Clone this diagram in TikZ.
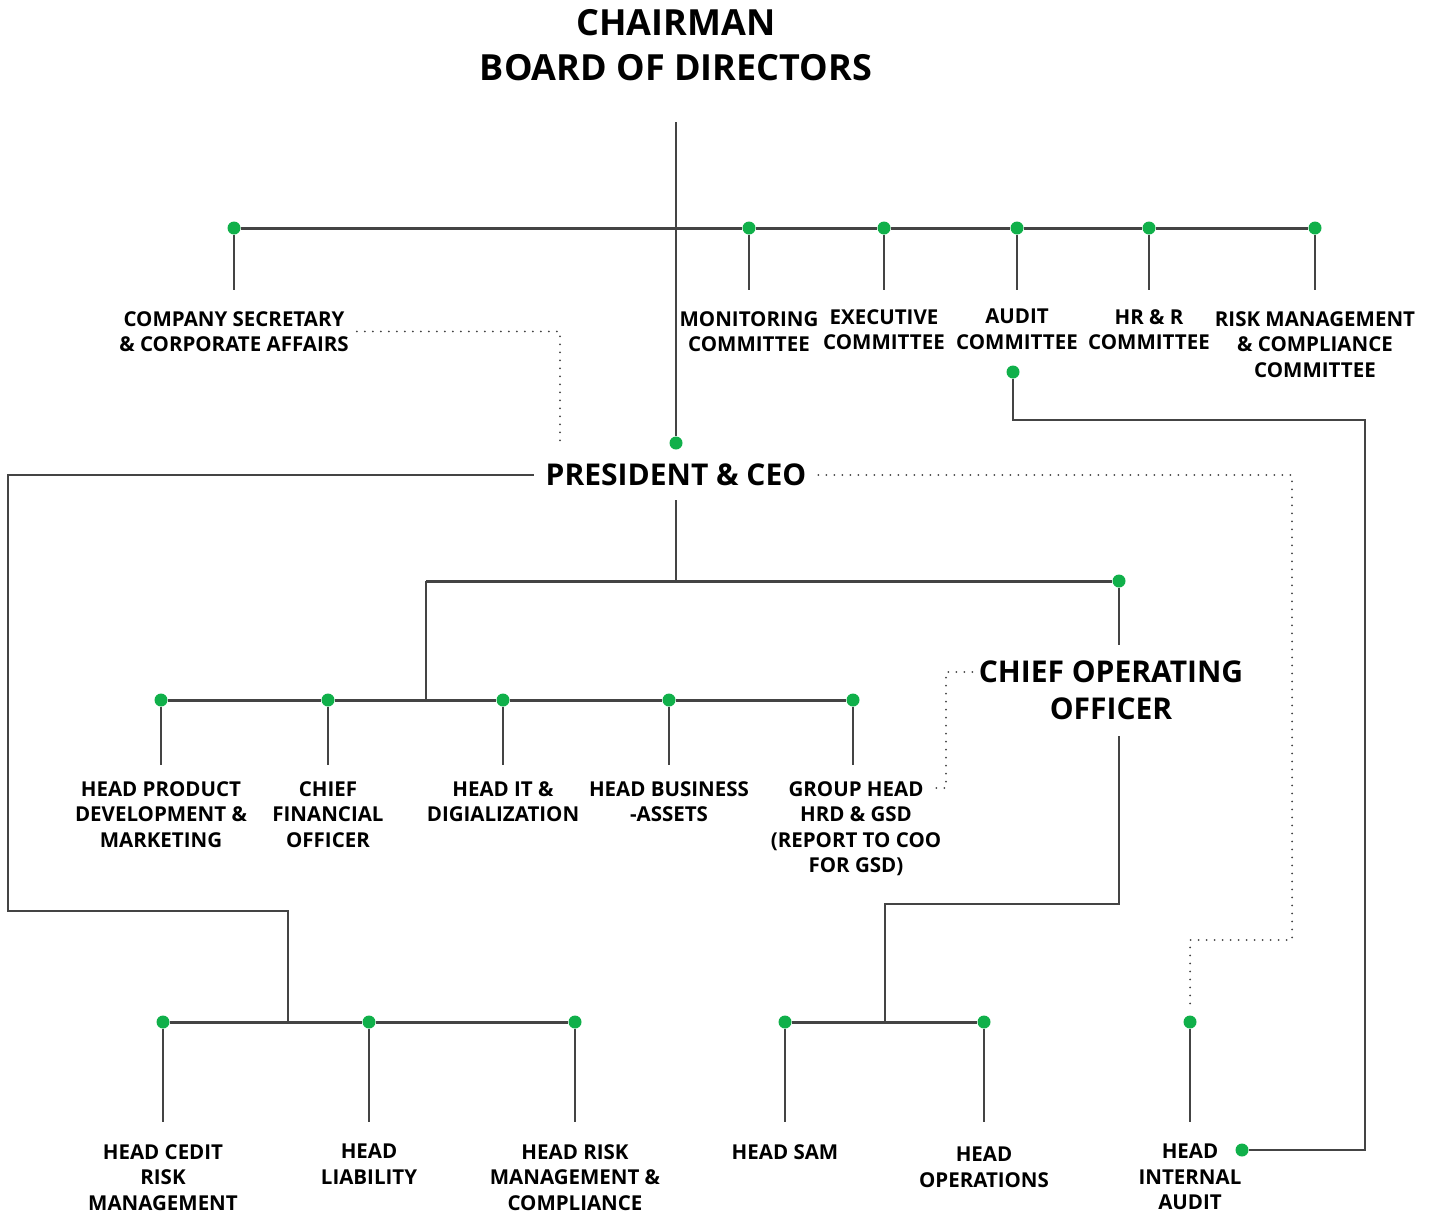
\documentclass[tikz,border=0pt]{standalone}
\usepackage{fontspec}
\setmainfont{Open Sans}
\usetikzlibrary{positioning}
\definecolor{dotgreen}{HTML}{10B04A}
\definecolor{linegray}{HTML}{444444}

\begin{document}
\begin{tikzpicture}[x=1pt,y=-1pt,
    every node/.style={font=\bfseries\fontsize{20.5}{25.5}\selectfont,align=center,inner sep=0pt},
    lbl/.style={anchor=north},
    big/.style={font=\bfseries\fontsize{30}{37}\selectfont},
    title/.style={font=\bfseries\fontsize{36}{45}\selectfont},
    dot/.style={circle,fill=dotgreen,minimum size=13pt,inner sep=0pt},
    bus/.style={draw=linegray,line width=3pt},
    drop/.style={draw=linegray,line width=2pt},
    elbow/.style={draw=linegray,line width=2.5pt},
    dotline/.style={draw=linegray,line width=2pt,line cap=round,dash pattern=on 0pt off 8pt}]
    \useasboundingbox (0,0) rectangle (1430,1216);

    % board level
    \node[title,anchor=north] (chair) at (676,9) {CHAIRMAN\\BOARD OF DIRECTORS};
    \coordinate (ctop) at (676,122);
    \node[dot] (dceo) at (676,443) {};
    \node[dot] (dsec) at (234,228) {};
    \node[dot] (dmon) at (749,228) {};
    \node[dot] (dexe) at (884,228) {};
    \node[dot] (daud) at (1017,228) {};
    \node[dot] (dhrr) at (1149,228) {};
    \node[dot] (drsk) at (1315,228) {};
    \node[lbl] (cosec) at (234,311) {COMPANY SECRETARY\\\& CORPORATE AFFAIRS};
    \node[lbl] (monit) at (749,311) {MONITORING\\COMMITTEE};
    \node[lbl] (exec) at (884,309) {EXECUTIVE\\COMMITTEE};
    \node[lbl] (audit) at (1017,309) {AUDIT\\COMMITTEE};
    \node[lbl] (hrr) at (1149,309) {HR \& R\\COMMITTEE};
    \node[lbl] (riskc) at (1315,311) {RISK MANAGEMENT\\\& COMPLIANCE\\COMMITTEE};
    \node[dot] (daudb) at (1013,372) {};

    \draw[drop] (ctop) -- (dceo);
    \draw[bus] (dsec) -- (dmon) -- (dexe) -- (daud) -- (dhrr) -- (drsk);
    \draw[drop,shorten >=21pt] (dsec) -- (dsec |- cosec.north);
    \draw[drop,shorten >=21pt] (dmon) -- (dmon |- monit.north);
    \draw[drop,shorten >=19pt] (dexe) -- (dexe |- exec.north);
    \draw[drop,shorten >=19pt] (daud) -- (daud |- audit.north);
    \draw[drop,shorten >=19pt] (dhrr) -- (dhrr |- hrr.north);
    \draw[drop,shorten >=21pt] (drsk) -- (drsk |- riskc.north);
    \coordinate (secend) at (560,443);
    \draw[dotline] ([xshift=8pt]cosec.east) -| (secend);

    % president and ceo
    \node[big,inner xsep=12pt] (ceo) at (676,475) {PRESIDENT \& CEO};
    \coordinate (cl1) at (8,911);
    \coordinate (cj1) at (288,1022);
    \draw[elbow] (ceo.west) -| (cl1) -| (cj1);
    \coordinate (cr1) at (1292,940);
    \node[dot] (dia) at (1190,1022) {};
    \draw[dotline,shorten >=8pt] (ceo.east) -| (cr1) -| (dia);
    \coordinate (cj2) at (676,581);
    \coordinate (cj3) at (426,581);
    \coordinate (cj4) at (426,700);
    \node[dot] (dcoo) at (1119,581) {};
    \draw[drop,shorten <=14pt] (ceo) -- (cj2);
    \draw[bus] (dcoo) -- (cj3);
    \draw[drop] (cj3) -- (cj4);

    % chief operating officer
    \node[big,anchor=north] (coo) at (1111,661) {CHIEF OPERATING\\OFFICER};
    \draw[drop,shorten >=16pt] (dcoo) -- (dcoo |- coo.north);
    \coordinate (cb) at (1119,904);
    \coordinate (cj5) at (885,1022);
    \draw[elbow,shorten <=16pt] (dcoo |- coo.south) -- (cb) -| (cj5);

    % second level
    \node[dot] (dprod) at (161,700) {};
    \node[dot] (dcfo) at (328,700) {};
    \node[dot] (dit) at (503,700) {};
    \node[dot] (dbus) at (669,700) {};
    \node[dot] (dgrp) at (853,700) {};
    \node[lbl] (prod) at (161,781) {HEAD PRODUCT\\DEVELOPMENT \&\\MARKETING};
    \node[lbl] (cfo) at (328,781) {CHIEF\\FINANCIAL\\OFFICER};
    \node[lbl] (itd) at (503,781) {HEAD IT \&\\DIGIALIZATION};
    \node[lbl] (busa) at (669,781) {HEAD BUSINESS\\-ASSETS};
    \node[lbl] (grp) at (856,781) {GROUP HEAD\\HRD \& GSD\\(REPORT TO COO\\FOR GSD)};
    \draw[bus] (dprod) -- (dcfo) -- (dit) -- (dbus) -- (dgrp);
    \draw[drop,shorten >=16pt] (dprod) -- (dprod |- prod.north);
    \draw[drop,shorten >=16pt] (dcfo) -- (dcfo |- cfo.north);
    \draw[drop,shorten >=16pt] (dit) -- (dit |- itd.north);
    \draw[drop,shorten >=16pt] (dbus) -- (dbus |- busa.north);
    \draw[drop,shorten >=16pt] (dgrp) -- (dgrp |- grp.north);
    \coordinate (gd) at (946,672);
    \draw[dotline] ([xshift=-5pt,yshift=-7pt]grp.north east) -| (gd) -- ([xshift=-4pt]gd -| coo.west);

    % third level
    \node[dot] (dced) at (163,1022) {};
    \node[dot] (dlia) at (369,1022) {};
    \node[dot] (drsh) at (575,1022) {};
    \node[dot] (dsam) at (785,1022) {};
    \node[dot] (dops) at (984,1022) {};
    \node[dot] (dint) at (1242,1150) {};
    \node[lbl] (cedit) at (163,1144) {HEAD CEDIT\\RISK\\MANAGEMENT};
    \node[lbl] (liab) at (369,1144) {HEAD\\LIABILITY};
    \node[lbl] (riskh) at (575,1144) {HEAD RISK\\MANAGEMENT \&\\COMPLIANCE};
    \node[lbl] (sam) at (785,1144) {HEAD SAM};
    \node[lbl] (ops) at (984,1147) {HEAD\\OPERATIONS};
    \node[lbl] (intaud) at (1190,1144) {HEAD\\INTERNAL\\AUDIT};
    \draw[bus] (dced) -- (dlia) -- (drsh);
    \draw[bus] (dsam) -- (dops);
    \draw[drop,shorten >=22pt] (dced) -- (dced |- cedit.north);
    \draw[drop,shorten >=22pt] (dlia) -- (dlia |- liab.north);
    \draw[drop,shorten >=22pt] (drsh) -- (drsh |- riskh.north);
    \draw[drop,shorten >=22pt] (dsam) -- (dsam |- sam.north);
    \draw[drop,shorten >=25pt] (dops) -- (dops |- ops.north);
    \draw[drop,shorten >=22pt] (dia) -- (dia |- intaud.north);

    % audit committee to internal audit
    \coordinate (audr) at (1365,420);
    \draw[elbow] (daudb) |- (audr) |- (dint);
\end{tikzpicture}
\end{document}
